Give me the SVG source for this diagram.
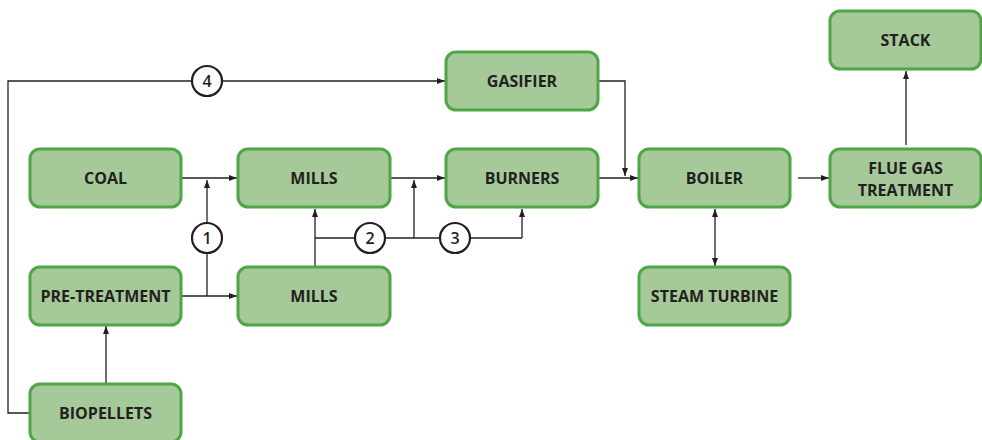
<svg xmlns="http://www.w3.org/2000/svg" width="982" height="440" viewBox="0 0 982 440">
<defs>
<marker id="ah" viewBox="0 0 8 6" refX="8" refY="3" markerWidth="8" markerHeight="6" markerUnits="userSpaceOnUse" orient="auto-start-reverse">
<path d="M0,0 L8,3 L0,6 Z" fill="#231f20"/>
</marker>
</defs>
<style>
.box{fill:#a6c999;stroke:#4ea646;stroke-width:3}
.lbl{font-family:"Open Sans","Liberation Sans",sans-serif;font-weight:700;font-size:16px;fill:#231f20;text-anchor:middle}
.ln{fill:none;stroke:#231f20;stroke-width:1.3}
.arr{marker-end:url(#ah)}
.both{marker-start:url(#ah);marker-end:url(#ah)}
.circ{fill:#fff;stroke:#231f20;stroke-width:2.2}
.num{font-family:"Open Sans","Liberation Sans",sans-serif;font-weight:600;font-size:16px;fill:#231f20;text-anchor:middle}
</style>
<rect width="982" height="440" fill="#fff"/>
<g id="connectors">
<path class="ln arr" d="M181,178 H237"/>
<path class="ln arr" d="M181,296 H237"/>
<path class="ln arr" d="M207,296 V180"/>
<path class="ln arr" d="M315,267 V209"/>
<path class="ln" d="M315,238 H522"/>
<path class="ln arr" d="M522,238 V209"/>
<path class="ln arr" d="M414,238 V180"/>
<path class="ln arr" d="M390,178 H445"/>
<path class="ln arr" d="M598,178 H638"/>
<path class="ln arr" d="M598,81 H625 V176"/>
<path class="ln arr" d="M30,413 H8 V81 H445"/>
<path class="ln arr" d="M798,178 H829"/>
<path class="ln arr" d="M906,145 V71"/>
<path class="ln both" d="M715,209 V266"/>
<path class="ln arr" d="M106,384 V326"/>
<circle class="circ" cx="207" cy="238" r="15"/>
<text class="num" x="207" y="243.5">1</text>
<circle class="circ" cx="370" cy="238" r="15"/>
<text class="num" x="370" y="243.5">2</text>
<circle class="circ" cx="455" cy="238" r="15"/>
<text class="num" x="455" y="243.5">3</text>
<circle class="circ" cx="207" cy="81" r="15"/>
<text class="num" x="207" y="86.5">4</text>
</g>
<g id="coal"><rect class="box" x="30" y="149" width="151" height="58" rx="10"/><text class="lbl" x="105.5" y="184">COAL</text></g>
<g id="mills1"><rect class="box" x="238" y="149" width="152" height="58" rx="10"/><text class="lbl" x="314" y="184">MILLS</text></g>
<g id="mills2"><rect class="box" x="238" y="267" width="152" height="58" rx="10"/><text class="lbl" x="314" y="302">MILLS</text></g>
<g id="pretreatment"><rect class="box" x="30" y="267" width="151" height="58" rx="10"/><text class="lbl" x="105.5" y="302">PRE-TREATMENT</text></g>
<g id="biopellets"><rect class="box" x="30" y="384" width="151" height="58" rx="10"/><text class="lbl" x="105.5" y="419">BIOPELLETS</text></g>
<g id="gasifier"><rect class="box" x="446" y="52" width="152" height="58" rx="10"/><text class="lbl" x="522" y="87">GASIFIER</text></g>
<g id="burners"><rect class="box" x="446" y="149" width="152" height="58" rx="10"/><text class="lbl" x="522" y="184">BURNERS</text></g>
<g id="boiler"><rect class="box" x="639" y="149" width="151" height="58" rx="10"/><text class="lbl" x="714.5" y="184">BOILER</text></g>
<g id="steamturbine"><rect class="box" x="639" y="267" width="151" height="58" rx="10"/><text class="lbl" x="714.5" y="302">STEAM TURBINE</text></g>
<g id="fluegas"><rect class="box" x="830" y="149" width="151" height="58" rx="10"/><text class="lbl" x="905.5" y="174">FLUE GAS</text><text class="lbl" x="905.5" y="196">TREATMENT</text></g>
<g id="stack"><rect class="box" x="830" y="11" width="151" height="58" rx="10"/><text class="lbl" x="905.5" y="46">STACK</text></g>
</svg>
